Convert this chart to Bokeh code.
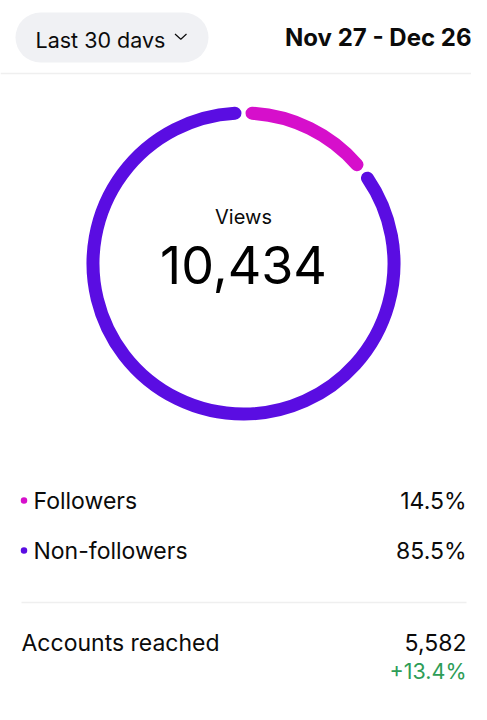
import math
from bokeh.plotting import figure
from bokeh.models import Range1d, ColumnDataSource
from bokeh.core.properties import value
from bokeh.embed import file_html
from bokeh.resources import INLINE

# ---------------- data ----------------
period_label = "Last 30 days"
date_range = "Nov 27 - Dec 26"
metric_name = "Views"
views_total = 10434
segments = ["Followers", "Non-followers"]
shares = [14.5, 85.5]
segment_colors = ["#d60fcb", "#5a0de2"]
summary_labels = ["Accounts reached"]
summary_values = [5582]
summary_changes = [13.4]

# ---------------- layout helpers (screen px -> data) ----------------
W, H = 471, 704
def X(sx):
    return sx
def Y(sy):
    return H - sy

FONT = value("Inter")
TXT = "#0b0b0b"
PILL = "#f0f1f4"
SEP = "#efefef"

p = figure(width=W, height=H, output_backend="svg", toolbar_location=None,
           x_range=Range1d(0, W), y_range=Range1d(0, H),
           x_axis_location=None, y_axis_location=None, min_border=0)
p.grid.visible = False
p.outline_line_color = None
p.background_fill_color = "white"
p.border_fill_color = "white"

# header separator
p.segment(x0=[X(0)], y0=[Y(73)], x1=[X(487)], y1=[Y(73)], line_color=SEP, line_width=1.5)

# pill button
p.line(x=[X(40), X(183)], y=[Y(37), Y(37)], line_width=50, line_cap="round", line_color=PILL)
p.text(x=[X(35)], y=[Y(39)], text=[period_label], text_font=FONT, text_font_size="21.5px",
       text_color=TXT, text_baseline="middle", text_align="left")
# clipped descender like the reference
p.quad(left=[X(100)], right=[X(172)], bottom=[Y(58)], top=[Y(47.3)], fill_color=PILL, line_color=None)
# chevron
p.line(x=[X(174.5), X(180.3), X(186)], y=[Y(33.5), Y(38.7), Y(33.5)], line_color=TXT, line_width=1.2)

p.text(x=[X(471)], y=[Y(36.7)], text=[date_range], text_font=FONT, text_font_size="24px",
       text_font_style="bold", text_color=TXT, text_baseline="middle", text_align="right")

# ---------------- ring ----------------
cx, cy = X(243), Y(263)
r_mid = 150.5
gap = math.radians(6.5)
total = sum(shares)
starts, ends = [], []
cum = 0.0
for s in shares:
    a0 = cum / total * 2 * math.pi
    a1 = (cum + s) / total * 2 * math.pi
    starts.append(math.pi / 2 - a0 - gap / 2)
    ends.append(math.pi / 2 - a1 + gap / 2)
    cum += s
ring = ColumnDataSource(dict(x=[cx] * len(shares), y=[cy] * len(shares), start=starts, end=ends,
                             color=segment_colors))
p.arc(x="x", y="y", radius=r_mid, start_angle="start", end_angle="end", direction="clock",
      line_color="color", line_width=13, line_cap="round", source=ring)

p.text(x=[cx], y=[Y(216.5)], text=[metric_name], text_font=FONT, text_font_size="20px",
       text_color=TXT, text_baseline="middle", text_align="center")
p.text(x=[cx], y=[Y(264)], text=[f"{views_total:,}"], text_font=FONT, text_font_size="52px",
       text_color="#000000", text_baseline="middle", text_align="center")

# ---------------- legend rows ----------------
row_y = [500, 550]
leg = ColumnDataSource(dict(
    dx=[X(23.5)] * len(segments), tx=[X(33)] * len(segments), vx=[X(466)] * len(segments),
    y=[Y(v) for v in row_y], name=segments, pct=[f"{s:.1f}%" for s in shares], color=segment_colors))
p.scatter(x="dx", y="y", size=6.5, marker="circle", fill_color="color", line_color=None, source=leg)
p.text(x="tx", y="y", text="name", text_font=FONT, text_font_size="23px", text_color=TXT,
       text_baseline="middle", text_align="left", source=leg)
p.text(x="vx", y="y", text="pct", text_font=FONT, text_font_size="23px", text_color=TXT,
       text_baseline="middle", text_align="right", source=leg)

# separator
p.segment(x0=[X(21)], y0=[Y(602)], x1=[X(466)], y1=[Y(602)], line_color=SEP, line_width=1.5)

# summary
p.text(x=[X(21)], y=[Y(642)], text=summary_labels, text_font=FONT, text_font_size="23px",
       text_color=TXT, text_baseline="middle", text_align="left")
p.text(x=[X(466)], y=[Y(642)], text=[f"{v:,}" for v in summary_values], text_font=FONT,
       text_font_size="23px", text_color=TXT, text_baseline="middle", text_align="right")
p.text(x=[X(466)], y=[Y(670)], text=[f"+{c:.1f}%" for c in summary_changes], text_font=FONT,
       text_font_size="21.5px", text_color="#2e9d57", text_baseline="middle", text_align="right")

open("out.html", "w").write(file_html(p, INLINE))
